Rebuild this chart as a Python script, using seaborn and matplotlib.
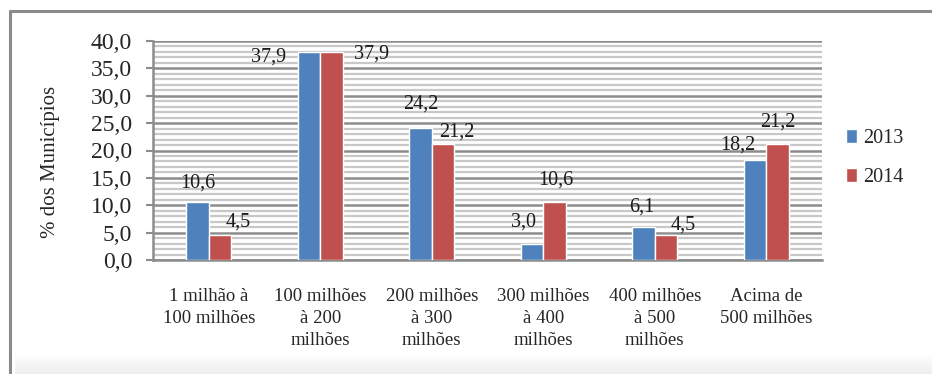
import numpy as np
import pandas as pd
import matplotlib
matplotlib.use("Agg")
import matplotlib.pyplot as plt
from matplotlib.ticker import FuncFormatter, MultipleLocator
from matplotlib.patches import Patch
import seaborn as sns

# Faixas de receita e percentual de municípios por ano
faixas = [
    "1 milhão à\n100 milhões",
    "100 milhões\nà 200\nmilhões",
    "200 milhões\nà 300\nmilhões",
    "300 milhões\nà 400\nmilhões",
    "400 milhões\nà 500\nmilhões",
    "Acima de\n500 milhões",
]
anos = ["2013", "2014"]
pct_2013 = [10.6, 37.9, 24.2, 3.0, 6.1, 18.2]
pct_2014 = [4.5, 37.9, 21.2, 10.6, 4.5, 21.2]

# Deslocamento dos rótulos (pixels: dx, dy acima do topo da barra)
offsets_2013 = [(0, 19), (-41, -5), (0, 23), (-9, 22), (-2, 20), (-17, 15)]
offsets_2014 = [(18, 13), (40, -2), (14, 12), (1, 22), (17, 10), (0, 22)]

df = pd.DataFrame({
    "faixa": faixas * 2,
    "ano": [anos[0]] * len(faixas) + [anos[1]] * len(faixas),
    "pct": pct_2013 + pct_2014,
})

sns.set_theme(style="white")
plt.rcParams["font.family"] = ["Liberation Serif", "DejaVu Serif"]

BLUE = "#4F81BD"
RED = "#C0504D"
GRID_MAJOR = "#8C8C8C"
GRID_MINOR = "#C8C8C8"

W, H = 932, 374
fig = plt.figure(figsize=(W / 100, H / 100), dpi=100)
fig.patch.set_facecolor("white")

# Sombra inferior em degradê
shade = fig.add_axes([15 / W, 0, (W - 15) / W, 20 / H])
grad = np.linspace(1.0, 0.0, 50).reshape(-1, 1)
shade.imshow(grad, aspect="auto", cmap=matplotlib.colors.LinearSegmentedColormap.from_list(
    "s", ["#FFFFFF", "#EDEDED"]), extent=[0, 1, 0, 1], origin="lower")
shade.axis("off")

# Moldura externa (esquerda e topo)
frame_color = "#8A8A8A"
fig.add_artist(plt.Line2D([10 / W, 10 / W], [0, 1 - 11 / H], color=frame_color, lw=2.2,
                          transform=fig.transFigure))
fig.add_artist(plt.Line2D([10 / W, 1], [1 - 11 / H, 1 - 11 / H], color=frame_color, lw=2.2,
                          transform=fig.transFigure))

ax = fig.add_axes([153 / W, 1 - 260 / H, (822 - 153) / W, (260 - 41) / H])
sns.barplot(data=df, x="faixa", y="pct", hue="ano", palette=[BLUE, RED],
            width=0.4, saturation=1, ax=ax, legend=False, zorder=3)

ax.set_ylim(0, 40)
ax.set_xlim(-0.5, len(faixas) - 0.5)
ax.yaxis.set_major_locator(MultipleLocator(5))
ax.yaxis.set_minor_locator(MultipleLocator(1))
ax.yaxis.set_major_formatter(FuncFormatter(lambda v, p: f"{v:.1f}".replace(".", ",")))
ax.grid(which="minor", axis="y", color=GRID_MINOR, lw=1.6, zorder=0)
ax.grid(which="major", axis="y", color=GRID_MAJOR, lw=1.8, zorder=1)
ax.set_axisbelow(True)

for side in ["top", "right"]:
    ax.spines[side].set_visible(False)
for side in ["left", "bottom"]:
    ax.spines[side].set_color(GRID_MAJOR)
    ax.spines[side].set_linewidth(1.8)

ax.tick_params(axis="y", which="major", direction="out", length=5, width=1.5,
               color=GRID_MAJOR, labelsize=17, pad=10, left=True)
ax.tick_params(axis="y", which="minor", left=False)
ax.tick_params(axis="x", length=0, labelsize=13.5, pad=20)
for lbl in ax.get_xticklabels():
    lbl.set_linespacing(1.4)

ax.set_xlabel("")
ax.set_ylabel("% dos Municípios", fontsize=15)
ax.yaxis.set_label_coords((60 - 153) / (822 - 153), 0.45)

# Rótulos de valor
px = 0.72
for cont, vals, offs in zip(ax.containers, [pct_2013, pct_2014], [offsets_2013, offsets_2014]):
    for bar, v, (dx, dy) in zip(cont, vals, offs):
        xc = bar.get_x() + bar.get_width() / 2
        ax.annotate(f"{v:.1f}".replace(".", ","), (xc, v),
                    xytext=(dx * px, dy * px), textcoords="offset points",
                    ha="center", va="center", fontsize=14.5, color="#1A1A1A",
                    annotation_clip=False, zorder=5)

handles = [Patch(facecolor=BLUE), Patch(facecolor=RED)]
fig.legend(handles, anos, loc="center left", bbox_to_anchor=(838 / W, 1 - 158 / H),
           frameon=False, fontsize=14.5, handlelength=0.55, handleheight=0.7,
           handletextpad=0.3, labelspacing=1.0, borderaxespad=0)

fig.savefig("out.png", dpi=100, facecolor="white")
